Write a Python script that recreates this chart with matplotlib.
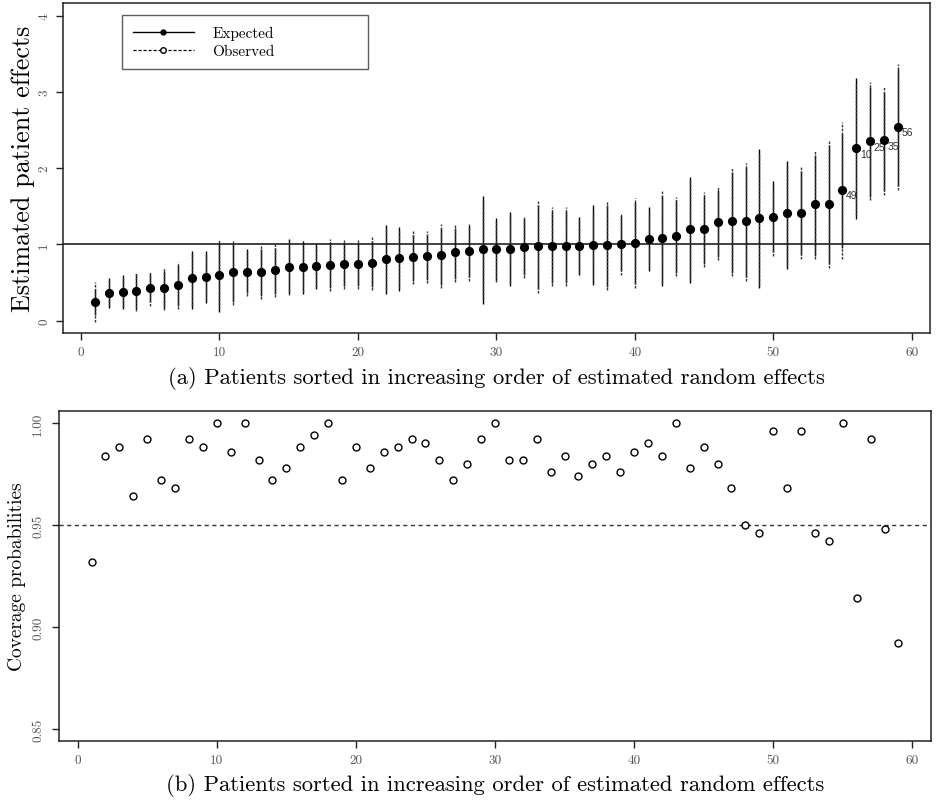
import matplotlib
matplotlib.use("Agg")
import matplotlib.pyplot as plt
from matplotlib.lines import Line2D
import numpy as np

plt.rcParams['font.family'] = ['cmr10', 'DejaVu Serif']
plt.rcParams['axes.formatter.use_mathtext'] = True

# ---------------- data ----------------
patients = list(range(1, 60))
est = [0.245, 0.363, 0.372, 0.387, 0.426, 0.427, 0.467, 0.555, 0.580, 0.594,
       0.636, 0.640, 0.645, 0.662, 0.706, 0.707, 0.715, 0.735, 0.745, 0.746,
       0.758, 0.813, 0.826, 0.840, 0.843, 0.858, 0.900, 0.913, 0.937, 0.942,
       0.946, 0.967, 0.974, 0.977, 0.978, 0.981, 0.989, 0.990, 1.010, 1.022,
       1.075, 1.083, 1.110, 1.197, 1.198, 1.289, 1.302, 1.306, 1.346, 1.359,
       1.411, 1.415, 1.525, 1.526, 1.720, 2.259, 2.350, 2.365, 2.545]
exp_lo = [0.07, 0.166, 0.149, 0.15, 0.24, 0.17, 0.19, 0.149, 0.236, 0.114,
          0.25, 0.36, 0.33, 0.35, 0.37, 0.345, 0.41, 0.43, 0.45, 0.46,
          0.44, 0.356, 0.393, 0.52, 0.54, 0.47, 0.55, 0.57, 0.223, 0.54,
          0.45, 0.60, 0.41, 0.50, 0.50, 0.594, 0.463, 0.44, 0.65, 0.48,
          0.647, 0.454, 0.62, 0.494, 0.74, 0.83, 0.63, 0.57, 0.426, 0.90,
          0.682, 0.86, 0.85, 0.74, 0.95, 1.337, 1.62, 1.70, 1.77]
exp_hi = [0.42, 0.559, 0.596, 0.61, 0.61, 0.65, 0.73, 0.917, 0.917, 1.02,
          1.00, 0.944, 0.94, 0.96, 1.078, 1.048, 1.015, 1.03, 1.02, 1.02,
          1.05, 1.258, 1.23, 1.13, 1.13, 1.22, 1.22, 1.24, 1.634, 1.346,
          1.424, 1.33, 1.52, 1.44, 1.44, 1.359, 1.512, 1.52, 1.37, 1.56,
          1.49, 1.64, 1.58, 1.888, 1.64, 1.72, 1.95, 2.02, 2.254, 1.83,
          2.097, 1.96, 2.17, 2.30, 2.45, 3.176, 3.06, 3.00, 3.30]
obs_lo = [-0.02, 0.20, 0.18, 0.122, 0.20, 0.135, 0.149, 0.19, 0.27, 0.15,
          0.21, 0.319, 0.288, 0.306, 0.332, 0.38, 0.44, 0.389, 0.41, 0.419,
          0.398, 0.40, 0.43, 0.48, 0.496, 0.428, 0.503, 0.527, 0.28, 0.503,
          0.49, 0.555, 0.367, 0.454, 0.454, 0.63, 0.50, 0.398, 0.603, 0.433,
          0.69, 0.49, 0.583, 0.54, 0.699, 0.791, 0.583, 0.527, 0.47, 0.843,
          0.72, 0.813, 0.806, 0.69, 0.804, 1.39, 1.577, 1.643, 1.719]
obs_hi = [0.51, 0.53, 0.56, 0.642, 0.647, 0.69, 0.769, 0.88, 0.88, 1.078,
          1.046, 0.91, 0.985, 1.00, 1.04, 1.01, 0.98, 1.072, 1.057, 1.057,
          1.092, 1.21, 1.19, 1.175, 1.175, 1.27, 1.27, 1.284, 1.58, 1.30,
          1.38, 1.372, 1.573, 1.49, 1.49, 1.32, 1.47, 1.573, 1.418, 1.61,
          1.45, 1.70, 1.625, 1.84, 1.686, 1.772, 2.003, 2.073, 2.20, 1.78,
          2.05, 2.01, 2.226, 2.36, 2.60, 3.10, 3.124, 3.063, 3.36]
outlier_pos = [55, 56, 57, 58, 59]
outlier_ids = ["49", "10", "25", "35", "56"]

coverage = [0.932, 0.984, 0.988, 0.964, 0.992, 0.972, 0.968, 0.992, 0.988, 1.000,
            0.986, 1.000, 0.982, 0.972, 0.978, 0.988, 0.994, 1.000, 0.972, 0.988,
            0.978, 0.986, 0.988, 0.992, 0.990, 0.982, 0.972, 0.980, 0.992, 1.000,
            0.982, 0.982, 0.992, 0.976, 0.984, 0.974, 0.980, 0.984, 0.976, 0.986,
            0.990, 0.984, 1.000, 0.978, 0.988, 0.980, 0.968, 0.950, 0.946, 0.996,
            0.968, 0.996, 0.946, 0.942, 1.000, 0.914, 0.992, 0.948, 0.892]

xticks = [0, 10, 20, 30, 40, 50, 60]
yticks_top = [0, 1, 2, 3, 4]
yticks_bot = [0.85, 0.90, 0.95, 1.00]
ytick_labels_bot = ["0.85", "0.90", "0.95", "1.00"]

# ---------------- figure ----------------
W, H = 937, 804
fig = plt.figure(figsize=(W / 100, H / 100), dpi=100)

def fbox(l, t, r, b):
    return [l / W, 1 - b / H, (r - l) / W, (b - t) / H]

ax1 = fig.add_axes(fbox(62.7, 4.3, 930, 334))
ax2 = fig.add_axes(fbox(59.3, 411.7, 930.7, 742.3))

tickcol = '#555555'
for ax in (ax1, ax2):
    for s in ax.spines.values():
        s.set_linewidth(1.1)
        s.set_color('#222222')
    ax.set_xlim(-1.32, 61.32)
    ax.set_xticks(xticks)
    ax.set_xticklabels([str(t) for t in xticks])
    ax.tick_params(axis='both', direction='out', length=5, width=1,
                   colors='#222222', labelcolor=tickcol, labelsize=9.5)
    ax.tick_params(axis='x', pad=4)
    ax.tick_params(axis='y', labelrotation=90)

# ---- top panel ----
x = np.array(patients)
ax1.vlines(x, exp_lo, exp_hi, colors='black', linewidth=1.0, linestyles='solid', zorder=2)
ax1.vlines(x, obs_lo, obs_hi, colors='#333333', linewidth=1.0,
           linestyles=(0, (1.8, 1.0)), zorder=3)
ax1.plot(x, est, 'o', color='black', markersize=5.6, zorder=4)
ax1.axhline(1, color='#333333', linewidth=1.3, zorder=1)
ax1.set_ylim(-0.16, 4.16)
ax1.set_yticks(yticks_top)
ax1.set_yticklabels([str(t) for t in yticks_top])
for lab in ax1.get_yticklabels():
    lab.set_va('center')
ax1.tick_params(axis='y', pad=4)
ax1.set_ylabel('Estimated patient effects', fontsize=18.8, labelpad=2)

for p, lab in zip(outlier_pos, outlier_ids):
    ax1.annotate(lab, (p, est[p - 1]), xytext=(2.5, -4), textcoords='offset points',
                 ha='left', va='center', fontsize=7.5, color='#333333',
                 family=['Liberation Sans', 'DejaVu Sans'])

h1 = Line2D([], [], color='black', linestyle='-', marker='o', markersize=3.5, linewidth=1)
h2 = Line2D([], [], color='black', linestyle=(0, (2.5, 1.5)), marker='o', markersize=4,
            markerfacecolor='white', linewidth=0.9)
leg = ax1.legend([h1, h2], ['Expected', 'Observed'], loc='upper left',
                 bbox_to_anchor=(0.0684, 0.81, 0.284, 0.1545), mode='expand',
                 borderaxespad=0, fontsize=11, handlelength=4.0, handletextpad=1.2,
                 frameon=True, fancybox=False, edgecolor='#333333', labelspacing=0.3,
                 borderpad=0.7)
leg.get_frame().set_linewidth(1.0)

fig.text(496 / W, 1 - 379 / H,
         '(a) Patients sorted in increasing order of estimated random effects',
         ha='center', va='center', fontsize=16.3)

# ---- bottom panel ----
ax2.plot(x, coverage, 'o', markerfacecolor='white', markeredgecolor='black',
         markersize=5, markeredgewidth=1.0, zorder=3)
ax2.axhline(0.95, color='#333333', linewidth=1.0, linestyle=(0, (3, 2.5)), zorder=1)
ax2.set_ylim(0.844, 1.006)
ax2.set_yticks(yticks_bot)
ax2.set_yticklabels(ytick_labels_bot)
for lab in ax2.get_yticklabels():
    lab.set_va('center')
ax2.tick_params(axis='y', pad=6)
ax2.set_ylabel('Coverage probabilities', fontsize=14, labelpad=4)

fig.text(495 / W, 1 - 786 / H,
         '(b) Patients sorted in increasing order of estimated random effects',
         ha='center', va='center', fontsize=16.3)

fig.savefig('out.png', dpi=100)
